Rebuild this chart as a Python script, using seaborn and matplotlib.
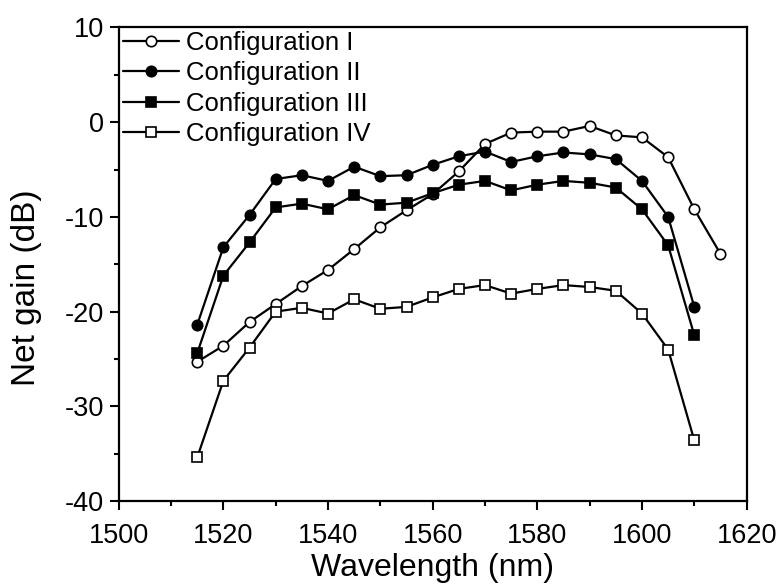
import numpy as np
import pandas as pd
import matplotlib
matplotlib.use("Agg")
import matplotlib.pyplot as plt
import seaborn as sns

wl_I = [1515, 1520, 1525, 1530, 1535, 1540, 1545, 1550, 1555, 1560, 1565,
        1570, 1575, 1580, 1585, 1590, 1595, 1600, 1605, 1610, 1615]
wl = [1515, 1520, 1525, 1530, 1535, 1540, 1545, 1550, 1555, 1560, 1565,
      1570, 1575, 1580, 1585, 1590, 1595, 1600, 1605, 1610]

gain_I = [-25.3, -23.6, -21.1, -19.2, -17.3, -15.6, -13.4, -11.1, -9.3, -7.6, -5.2,
          -2.3, -1.1, -1.0, -1.0, -0.4, -1.4, -1.6, -3.7, -9.2, -13.9]
gain_II = [-21.4, -13.2, -9.8, -6.0, -5.6, -6.2, -4.7, -5.7, -5.6, -4.5, -3.6,
           -3.1, -4.2, -3.6, -3.2, -3.4, -3.9, -6.2, -10.0, -19.5]
gain_III = [-24.4, -16.2, -12.7, -9.0, -8.6, -9.2, -7.7, -8.7, -8.5, -7.5, -6.6,
            -6.2, -7.2, -6.6, -6.2, -6.4, -6.9, -9.2, -13.0, -22.5]
gain_IV = [-35.4, -27.3, -23.8, -20.0, -19.6, -20.2, -18.7, -19.7, -19.5, -18.5, -17.6,
           -17.2, -18.1, -17.6, -17.2, -17.4, -17.8, -20.2, -24.0, -33.6]

labels = ["Configuration I", "Configuration II", "Configuration III", "Configuration IV"]
x_ticks = [1500, 1520, 1540, 1560, 1580, 1600, 1620]
y_ticks = [-40, -30, -20, -10, 0, 10]

frames = []
for lab, xs, ys in zip(labels, [wl_I, wl, wl, wl], [gain_I, gain_II, gain_III, gain_IV]):
    frames.append(pd.DataFrame({"Wavelength": xs, "Gain": ys, "Config": lab}))
df = pd.concat(frames, ignore_index=True)

sns.set_style("ticks")
plt.rcParams['font.family'] = ['Liberation Sans', 'DejaVu Sans']
plt.rcParams['axes.unicode_minus'] = False
plt.rcParams['text.color'] = 'black'
plt.rcParams['axes.labelcolor'] = 'black'
plt.rcParams['xtick.color'] = 'black'
plt.rcParams['ytick.color'] = 'black'

fig = plt.figure(figsize=(7.81, 5.84), dpi=100)
ax = fig.add_axes([0.152, 0.142, 0.804, 0.811])

styles = {
    "Configuration I": dict(marker="o", markerfacecolor="white", markersize=7.5),
    "Configuration II": dict(marker="o", markerfacecolor="black", markersize=7.5),
    "Configuration III": dict(marker="s", markerfacecolor="black", markersize=6.5),
    "Configuration IV": dict(marker="s", markerfacecolor="white", markersize=6.5),
}
for lab in labels:
    sub = df[df["Config"] == lab]
    sns.lineplot(data=sub, x="Wavelength", y="Gain", ax=ax, color="black",
                 linewidth=1.6, markeredgecolor="black", markeredgewidth=1.2,
                 label=lab, **styles[lab])

ax.set_xlim(1500, 1620)
ax.set_ylim(-40, 10)
ax.set_xticks(x_ticks)
ax.set_yticks(y_ticks)
ax.set_xticks(np.arange(1510, 1620, 20), minor=True)
ax.set_yticks(np.arange(-35, 10, 10), minor=True)
ax.tick_params(axis="both", which="major", direction="out", length=6.5, width=1.5,
               labelsize=19.5, color="black", labelcolor="black")
ax.tick_params(axis="x", which="major", pad=9)
ax.tick_params(axis="y", which="major", pad=4)
ax.tick_params(axis="both", which="minor", direction="out", length=3.5, width=1.5)
for s in ax.spines.values():
    s.set_linewidth(1.6)
    s.set_color("black")
ax.set_xlabel("Wavelength (nm)", fontsize=23, labelpad=3)
ax.set_ylabel("Net gain (dB)", fontsize=24)
ax.yaxis.set_label_coords(-0.122, 0.45)

leg = ax.legend(loc="upper left", frameon=False, fontsize=18.5, handlelength=2.2,
                handletextpad=0.25, labelspacing=0.24, borderaxespad=0.0,
                borderpad=0.15)

fig.savefig("out.png", dpi=100)
